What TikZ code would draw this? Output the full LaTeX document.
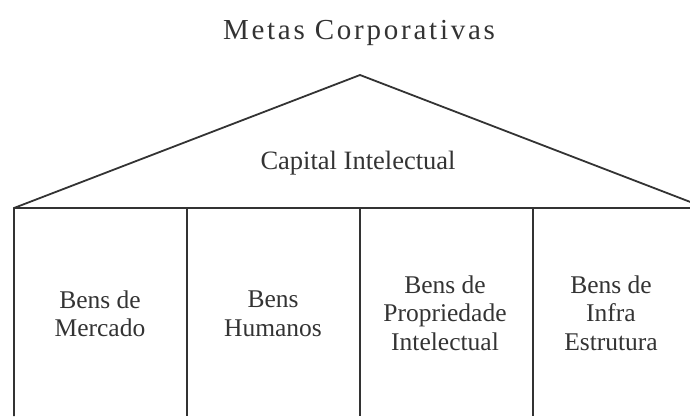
\documentclass[tikz,border=0pt]{standalone}
\usepackage{fontspec}
\setmainfont{Liberation Serif}
\newfontfamily\titlefont[LetterSpace=9.5]{Liberation Serif}
\definecolor{ink}{HTML}{333333}
\begin{document}
\begin{tikzpicture}[x=1pt,y=-1pt,
  wall/.style={draw=ink,line width=1.8pt,line cap=butt,line join=miter},
  lbl/.style={text=ink,font=\fontsize{25.5}{28.5}\selectfont,align=center,inner sep=0pt}]
\useasboundingbox (0,0) rectangle (690,416);
\clip (0,0) rectangle (690,416);
\coordinate (L) at (14,208);
\coordinate (A) at (360,75);
\coordinate (R) at (706,208);
\coordinate (b0) at (14,416);
\coordinate (t1) at (187,208);
\coordinate (b1) at (187,416);
\coordinate (t2) at (360,208);
\coordinate (b2) at (360,416);
\coordinate (t3) at (533,208);
\coordinate (b3) at (533,416);
\draw[wall] (b0) -- (L) -- (A) -- (R);
\draw[wall] (L) -- (R);
\draw[wall] (t1) -- (b1);
\draw[wall] (t2) -- (b2);
\draw[wall] (t3) -- (b3);
\node[text=ink,font=\fontsize{29}{31}\titlefont,inner sep=0pt] (title) at (359,33) {Metas Corporativas};
\node[lbl,font=\fontsize{26.5}{28.5}\selectfont] (ci) at (358,163) {Capital Intelectual};
\node[lbl] (c1) at (100,314) {Bens de\\Mercado};
\node[lbl] (c2) at (273,314) {Bens\\Humanos};
\node[lbl] (c3) at (445,313) {Bens de\\Propriedade\\Intelectual};
\node[lbl] (c4) at (611,313) {Bens de\\Infra\\Estrutura};
\end{tikzpicture}
\end{document}
